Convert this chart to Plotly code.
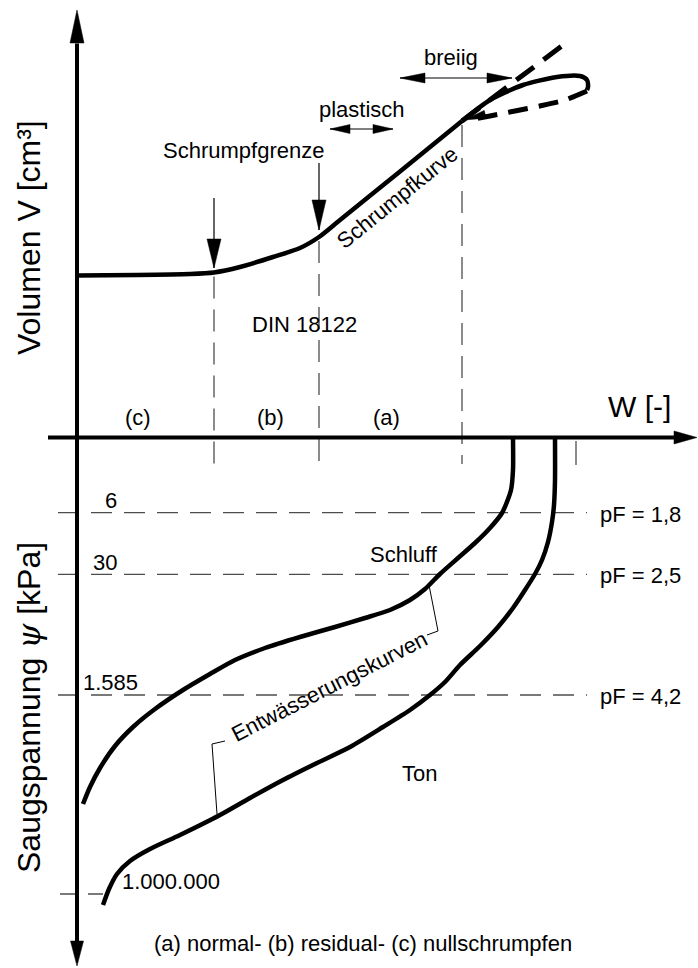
import math
import plotly.graph_objects as go

FONT = "Liberation Sans, Arial, Helvetica, sans-serif"
INK = "black"
GUIDE = "#4d4d4d"

# ---- upper panel: volume V against water content W (schematic units) ----
shrink_w = [0, 60, 113, 137, 163, 196, 223, 242, 263, 323, 385]
shrink_v = [162, 162.5, 163.5, 165, 170.5, 180.5, 189.5, 200.5, 217.5, 266, 316.5]

# swelling loop in the liquid ("breiig") state
loop_w = [385, 413, 446, 480, 503, 510, 511, 510]
loop_v = [316.5, 337.5, 352.5, 360.5, 361.5, 357.5, 350.5, 347.5]

# dashed continuation of the shrinkage line and dashed return branch
ext_w = [385, 490]
ext_v = [316.5, 395.5]
ret_w = [510, 488, 463, 438, 413, 391]
ret_v = [346.5, 337.5, 331.5, 326.5, 321.5, 317.5]

# W positions separating the shrinkage phases (c) | (b) | (a) | liquid
phase_w = [137, 242, 385]
phase_v = [165, 200.5, 316.5]
phase_names = ["(c)", "(b)", "(a)"]
phase_label_w = [61, 193, 309]
saturation_w = 499

# ---- lower panel: drainage curves, suction drawn downwards ----
silt_w = [436, 436, 434, 425, 413, 398, 381, 363, 348, 333, 313, 288, 258, 223,
          188, 158, 133, 106, 78, 56, 38, 23, 13, 6]
silt_s = [0, 32.5, 52.5, 75.5, 90.5, 105.5, 120.5, 136.5, 151.5, 162.5, 172.5,
          180.5, 189.5, 199.5, 210.5, 222.5, 236.5, 252.5, 271.5, 289.5, 308.5,
          330.5, 349.5, 366.5]
clay_w = [478, 478, 477, 475, 471, 465, 458, 448, 436, 421, 403, 383, 368, 353,
          333, 306, 273, 240, 206, 173, 143, 103, 73, 53, 40, 32, 26]
clay_s = [0, 42.5, 67.5, 84.5, 104.5, 122.5, 136.5, 152.5, 170.5, 189.5, 208.5,
          227.5, 244.5, 257.5, 272.5, 289.5, 309.5, 325.5, 342.5, 360.5, 377.5,
          397.5, 411.5, 423.5, 436.5, 451.5, 467.5]

suction_labels = ["6", "30", "1.585", "1.000.000"]
suction_s = [75.2, 136.8, 257.5, 456.5]
pf_labels = ["pF = 1,8", "pF = 2,5", "pF = 4,2"]

fig = go.Figure()


def line(xs, ys, width=1.3, color=INK, dash=None, spline=False):
    fig.add_trace(go.Scatter(
        x=xs, y=ys, mode="lines", hoverinfo="skip", showlegend=False,
        line=dict(color=color, width=width, dash=dash,
                  shape="spline" if spline else "linear", smoothing=0.7)))


def head(tip, frm, length, half):
    """Filled triangular arrow head with its point at `tip`, aimed away from `frm`."""
    dx, dy = tip[0] - frm[0], tip[1] - frm[1]
    n = math.hypot(dx, dy)
    ux, uy = dx / n, dy / n
    bx, by = tip[0] - ux * length, tip[1] - uy * length
    px, py = -uy * half, ux * half
    fig.add_trace(go.Scatter(
        x=[tip[0], bx + px, bx - px, tip[0]], y=[tip[1], by + py, by - py, tip[1]],
        mode="lines", fill="toself", fillcolor=INK, hoverinfo="skip",
        showlegend=False, line=dict(color=INK, width=0.5)))


def arrow(tail, tip, length, half, both=False, width=1.2):
    line([tail[0], tip[0]], [tail[1], tip[1]], width=width)
    head(tip, tail, length, half)
    if both:
        head(tail, tip, length, half)


def text(x, y, s, size=22, angle=0, xanchor="center"):
    fig.add_annotation(x=x, y=y, xref="x", yref="y", text=s, showarrow=False,
                       textangle=angle, xanchor=xanchor, yanchor="middle",
                       font=dict(family=FONT, size=size, color=INK))


# guide lines (thin grey dashes)
for w, v in zip(phase_w, phase_v):
    line([w, w], [v - 4, -26.5], color=GUIDE, dash="22px,11px")
line([saturation_w, saturation_w], [-3.5, -27.5], color=GUIDE)
for s in suction_s[:3]:
    line([-19, 510], [-s, -s], color=GUIDE, dash="21px,12px")
line([-17, 26], [-suction_s[3], -suction_s[3]], color=GUIDE, dash="17px,11px")

# coordinate axes with arrow heads
line([0, 0], [394, -505], width=4)
head((0, 427.5), (0, 0), 33, 7)
head((0, -528.5), (0, 0), 25, 6.5)
line([-29, 598], [0, 0], width=4)
head((620, 0), (0, 0), 23, 6.5)

# shrinkage curve, loop and dashed branches
line(shrink_w, shrink_v, width=4.5, spline=True)
line(loop_w, loop_v, width=4.5, spline=True)
line(ext_w, ext_v, width=5, dash="22px,12px")
line(ret_w, ret_v, width=5, dash="20px,11px", spline=True)
head((387, 317.5), (413, 324.5), 22, 4)

# drainage curves
line(silt_w, [-s for s in silt_s], width=4.5, spline=True)
line(clay_w, [-s for s in clay_s], width=4.5, spline=True)

# leader lines of the curve label
line([148, 135, 140], [-303.5, -306.5, -376.5], width=1)
line([350, 361, 352], [-197.5, -193.5, -147.5], width=1)

# state arrows
arrow((323, 359.5), (435, 359.5), 25, 5, both=True)
arrow((253, 308.5), (316, 308.5), 20, 4.5, both=True)
arrow((242, 274.5), (242, 207.5), 30, 7)
arrow((137, 239.5), (137, 169.5), 29, 7)

# texts
text(374, 379.8, "breiig")
text(284.5, 327.8, "plastisch")
text(166, 287.5, "Schrumpfgrenze")
text(320, 240.5, "Schrumpfkurve", angle=-39)
text(227, 112.8, "DIN 18122")
for w, name in zip(phase_label_w, phase_names):
    text(w, 20.5, name)
text(562.5, 31, "W [-]", size=30)
text(-48, 199.5, "Volumen V [cm³]", size=32, angle=-90)
text(-48, -270.5,
     'Saugspannung <span style="font-family:DejaVu Serif"><i>ψ</i></span> [kPa]',
     size=32, angle=-90)

label_w = [34, 28, 33, 94]
for w, s, lab in zip(label_w, suction_s, suction_labels):
    text(w, -s + 12.3, lab)
for s, lab in zip(suction_s[:3], pf_labels):
    text(521, -s - 1.5, lab, xanchor="left")

text(327, -116.5, "Schluff")
text(342, -335.9, "Ton")
text(252, -248.5, "Entwässerungskurven", angle=-27)
text(286, -505.5, "(a) normal- (b) residual- (c) nullschrumpfen")

fig.update_layout(
    width=698, height=968,
    margin=dict(l=0, r=0, t=0, b=0),
    paper_bgcolor="white", plot_bgcolor="white",
    xaxis=dict(range=[-77, 621], visible=False, fixedrange=True),
    yaxis=dict(range=[-530.5, 437.5], visible=False, fixedrange=True),
)

fig.write_html("out.html")
